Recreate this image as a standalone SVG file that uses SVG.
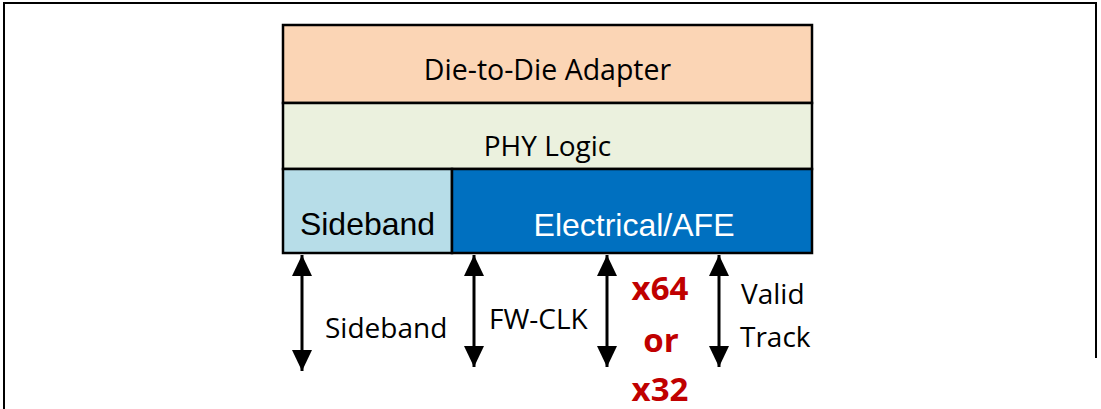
<svg xmlns="http://www.w3.org/2000/svg" width="1101" height="409" viewBox="0 0 1101 409">
  <style>
    .box { stroke: #000; stroke-width: 2.5; }
    .t { font-family: "Open Sans", "Liberation Sans", sans-serif; fill: #000; text-anchor: middle; }
    .a { font-family: "Liberation Sans", Arial, sans-serif; text-anchor: middle; }
    .lbl { font-family: "Open Sans", "Liberation Sans", sans-serif; font-size: 28px; fill: #000; }
    .red { font-family: "Open Sans", "Liberation Sans", sans-serif; font-size: 33px; font-weight: bold; fill: #C00000; text-anchor: middle; }
    .arr { stroke: #000; stroke-width: 3; fill: none; marker-start: url(#head); marker-end: url(#head); }
  </style>
  <defs>
    <marker id="head" markerUnits="userSpaceOnUse" markerWidth="21" markerHeight="20" viewBox="0 0 21 20" refX="21" refY="10" orient="auto-start-reverse">
      <path d="M0,0 L21,10 L0,20 Z" fill="#000"/>
    </marker>
  </defs>
  <rect width="1101" height="409" fill="#fff"/>
  <path d="M4,409 L4,3 L1096,3 L1096,358" fill="none" stroke="#000" stroke-width="2"/>

  <g id="die-to-die-adapter">
    <rect class="box" x="283" y="25" width="529" height="78" fill="#FBD5B5"/>
    <text class="t" x="547.5" y="80" font-size="28.5">Die-to-Die Adapter</text>
  </g>
  <g id="phy-logic">
    <rect class="box" x="283" y="103" width="529" height="66" fill="#EBF1DE"/>
    <text class="t" x="547.5" y="156" font-size="28">PHY Logic</text>
  </g>
  <g id="sideband-block">
    <rect class="box" x="283" y="169" width="169" height="84" fill="#B7DDE8"/>
    <text class="a" x="367.5" y="235" font-size="32" fill="#000">Sideband</text>
  </g>
  <g id="electrical-afe">
    <rect class="box" x="452" y="169" width="360" height="84" fill="#0070C0"/>
    <text class="a" x="634" y="236" font-size="32" fill="#fff">Electrical/AFE</text>
  </g>

  <g id="connectors">
    <line class="arr" x1="302" y1="255" x2="302" y2="371"/>
    <line class="arr" x1="474" y1="255" x2="474" y2="367"/>
    <line class="arr" x1="607" y1="255" x2="607" y2="367"/>
    <line class="arr" x1="719" y1="255" x2="719" y2="367"/>
  </g>

  <g id="labels">
    <text class="lbl" x="325" y="338">Sideband</text>
    <text class="lbl" x="489" y="329">FW-CLK</text>
    <text class="red" x="660" y="300">x64</text>
    <text class="red" x="661" y="352">or</text>
    <text class="red" x="660" y="401">x32</text>
    <text class="lbl" x="741" y="304">Valid</text>
    <text class="lbl" x="740" y="347">Track</text>
  </g>
</svg>
